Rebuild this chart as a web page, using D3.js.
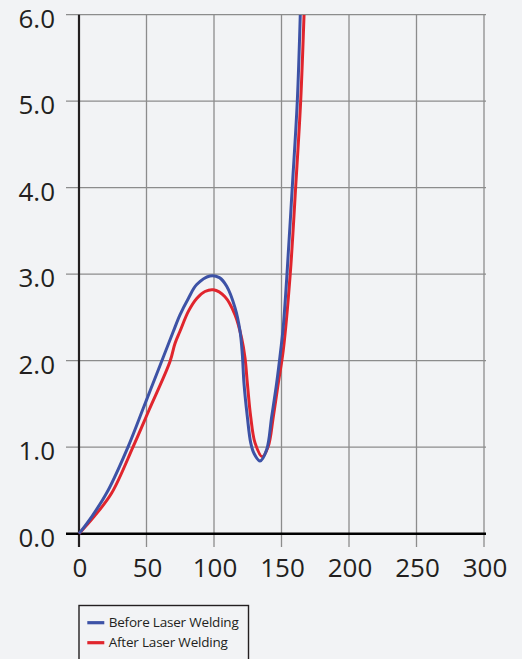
<!DOCTYPE html>
<html>
<head>
<meta charset="utf-8">
<script src="https://cdn.jsdelivr.net/npm/d3@7/dist/d3.min.js"></script>
<style>
html,body{margin:0;padding:0;background:#f2f3f5;}
svg{display:block;}
text{font-family:"Open Sans","Noto Sans",sans-serif;fill:#231f20;}
</style>
</head>
<body>
<svg id="chart" width="522" height="659"></svg>
<script>
const xTicks = [0, 50, 100, 150, 200, 250, 300];
const yTicks = [0, 1, 2, 3, 4, 5, 6];
const yTickLabels = ["0.0", "1.0", "2.0", "3.0", "4.0", "5.0", "6.0"];
const seriesNames = ["Before Laser Welding", "After Laser Welding"];
const seriesColors = ["#3d52a6", "#e0252d"];

const beforeX = [0, 10.0, 21.5, 36.5, 47.6, 52.6, 62.4, 69.9, 74.8, 81.0, 87.2, 97.0, 104.0, 109.4, 115.6, 119.3, 121.0, 122.2, 124.7, 127.2, 129.6, 134.1, 139.0, 142.7, 146.4, 149.4, 151.3, 154.1, 158.0, 161.7, 163.9];
const beforeY = [0, 0.21, 0.50, 1.01, 1.45, 1.65, 2.04, 2.34, 2.53, 2.72, 2.88, 2.98, 2.96, 2.86, 2.61, 2.34, 2.07, 1.74, 1.35, 1.05, 0.93, 0.84, 0.97, 1.35, 1.74, 2.12, 2.39, 3.01, 4.01, 5.00, 6.00];

const afterX = [0, 11.3, 24.2, 40.2, 51.9, 67.4, 71.1, 74.8, 81.0, 87.2, 93.3, 99.5, 108.1, 115.6, 120.5, 123.0, 124.7, 127.2, 130.4, 135.8, 140.2, 143.9, 147.6, 151.3, 156.5, 160.5, 164.2, 166.7];
const afterY = [0, 0.20, 0.47, 1.01, 1.43, 1.99, 2.20, 2.34, 2.57, 2.72, 2.80, 2.82, 2.74, 2.53, 2.26, 2.03, 1.74, 1.35, 1.05, 0.89, 1.01, 1.35, 1.74, 2.12, 3.01, 4.01, 5.00, 6.00];

const svg = d3.select("#chart");
const x = d3.scaleLinear().domain([0, 300]).range([79, 484]);
const y = d3.scaleLinear().domain([0, 6]).range([533.7, 14.7]);

// horizontal grid
svg.append("g").selectAll("line").data(yTicks).join("line")
  .attr("x1", 66).attr("x2", 486)
  .attr("y1", d => y(d)).attr("y2", d => y(d))
  .attr("stroke", "#8c8c8c").attr("stroke-width", 1.3);
// vertical grid
svg.append("g").selectAll("line").data(xTicks.slice(1)).join("line")
  .attr("x1", d => x(d)).attr("x2", d => x(d))
  .attr("y1", y(6)).attr("y2", 547)
  .attr("stroke", "#8c8c8c").attr("stroke-width", 1.3);

// axes lines
svg.append("line").attr("x1", x(0)).attr("x2", x(0)).attr("y1", y(6)).attr("y2", 547)
  .attr("stroke", "#231f20").attr("stroke-width", 2.2);
svg.append("line").attr("x1", 66).attr("x2", 486).attr("y1", y(0)).attr("y2", y(0))
  .attr("stroke", "#000").attr("stroke-width", 2.6);

// tick labels
svg.append("g").selectAll("text").data(yTicks).join("text")
  .attr("x", 55).attr("y", d => y(d) + 3)
  .attr("text-anchor", "end").attr("dominant-baseline", "central")
  .attr("font-size", 26)
  .text((d, i) => yTickLabels[i]);
svg.append("g").selectAll("text").data(xTicks).join("text")
  .attr("x", d => x(d) + 1).attr("y", 577)
  .attr("text-anchor", "middle")
  .attr("font-size", 26)
  .text(d => d);

// lines
const line = d3.line().x(d => x(d[0])).y(d => y(d[1])).curve(d3.curveCatmullRom.alpha(0.5));
const series = [
  beforeX.map((v, i) => [v, beforeY[i]]),
  afterX.map((v, i) => [v, afterY[i]])
];
svg.append("clipPath").attr("id", "clip").append("rect")
  .attr("x", x(0) - 3).attr("y", y(6)).attr("width", x(300) - x(0) + 6).attr("height", y(0) - y(6) + 3);
svg.append("g").attr("clip-path", "url(#clip)").selectAll("path").data([1, 0]).join("path")
  .attr("d", i => line(series[i]))
  .attr("fill", "none")
  .attr("stroke", i => seriesColors[i])
  .attr("stroke-width", 3)
  .attr("stroke-linejoin", "round");

// legend
const lg = svg.append("g");
lg.append("rect").attr("x", 79).attr("y", 605.5).attr("width", 169.5).attr("height", 70)
  .attr("fill", "none").attr("stroke", "#231f20").attr("stroke-width", 1.4);
seriesNames.forEach((name, i) => {
  const yy = 622.7 + i * 20;
  lg.append("line").attr("x1", 87.3).attr("x2", 104.3).attr("y1", yy).attr("y2", yy)
    .attr("stroke", seriesColors[i]).attr("stroke-width", 3.2);
  lg.append("text").attr("x", 108.7).attr("y", yy + 4.6)
    .attr("font-size", 13.5).attr("fill", "#231f20")
    .attr("letter-spacing", -0.2)
    .text(name);
});
</script>
</body>
</html>
